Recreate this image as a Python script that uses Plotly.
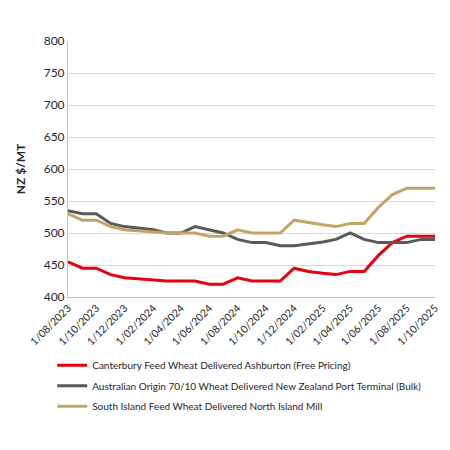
import pandas as pd
import plotly.graph_objects as go

# ---------------------------------------------------------
# Data (monthly, NZ $/MT)
# ---------------------------------------------------------
months = pd.date_range("2023-08-01", "2025-10-01", freq="MS")

canterbury = [455, 445, 445, 435, 430, 428, 427, 425, 425, 425, 420, 420, 430,
              425, 425, 425, 445, 440, 437, 435, 440, 440, 465, 485, 495, 495, 495]
australian = [535, 530, 530, 515, 510, 508, 505, 500, 500, 510, 505, 500, 490,
              485, 485, 480, 480, 483, 486, 490, 500, 490, 485, 485, 485, 490, 490]
south_island = [530, 520, 520, 510, 505, 503, 502, 500, 500, 500, 495, 495, 505,
                500, 500, 500, 520, 517, 513, 510, 515, 515, 540, 560, 570, 570, 570]

series_names = [
    "Canterbury Feed Wheat Delivered Ashburton (Free Pricing)",
    "Australian Origin 70/10 Wheat Delivered New Zealand Port Terminal (Bulk)",
    "South Island Feed Wheat Delivered North Island Mill",
]

# Colours & fonts
COLORS = ["#E8000F", "#595959", "#C4A466"]
FONT_FAMILY = "Lato, Open Sans, sans-serif"
FONT_COLOR = "#262626"

fig = go.Figure()
for i, (name, vals) in enumerate(zip(series_names, [canterbury, australian, south_island])):
    fig.add_trace(go.Scatter(
        x=months, y=vals, name=name, mode="lines",
        line=dict(color=COLORS[i], width=3),
        legendgroup=f"g{i}",
    ))

fig.update_layout(
    width=450, height=450,
    plot_bgcolor="white", paper_bgcolor="white",
    font=dict(family=FONT_FAMILY, size=11, color=FONT_COLOR),
    margin=dict(l=51, r=23, t=33, b=161),
    showlegend=True,
    legend=dict(
        x=-0.043, y=-0.21, xanchor="left", yanchor="top",
        font=dict(size=10, color=FONT_COLOR),
        tracegroupgap=1.5, bgcolor="rgba(0,0,0,0)",
    ),
)
fig.update_xaxes(
    range=[months[0], months[-1]],
    tick0="2023-08-01", dtick="M2", tickformat="%-d/%m/%Y",
    tickangle=-45, tickfont=dict(size=10.5),
    showgrid=False, showline=True, linecolor="#BFBFBF", linewidth=1,
    ticks="", zeroline=False,
)
fig.update_yaxes(
    range=[400, 800], dtick=50,
    title_text="<b>NZ $/MT</b>", title_font=dict(size=12),
    tickfont=dict(size=12),
    showgrid=True, gridcolor="#D9D9D9", gridwidth=1,
    showline=True, linecolor="#BFBFBF", linewidth=1,
    zeroline=False, ticks="",
)

fig.write_html("out.html")
